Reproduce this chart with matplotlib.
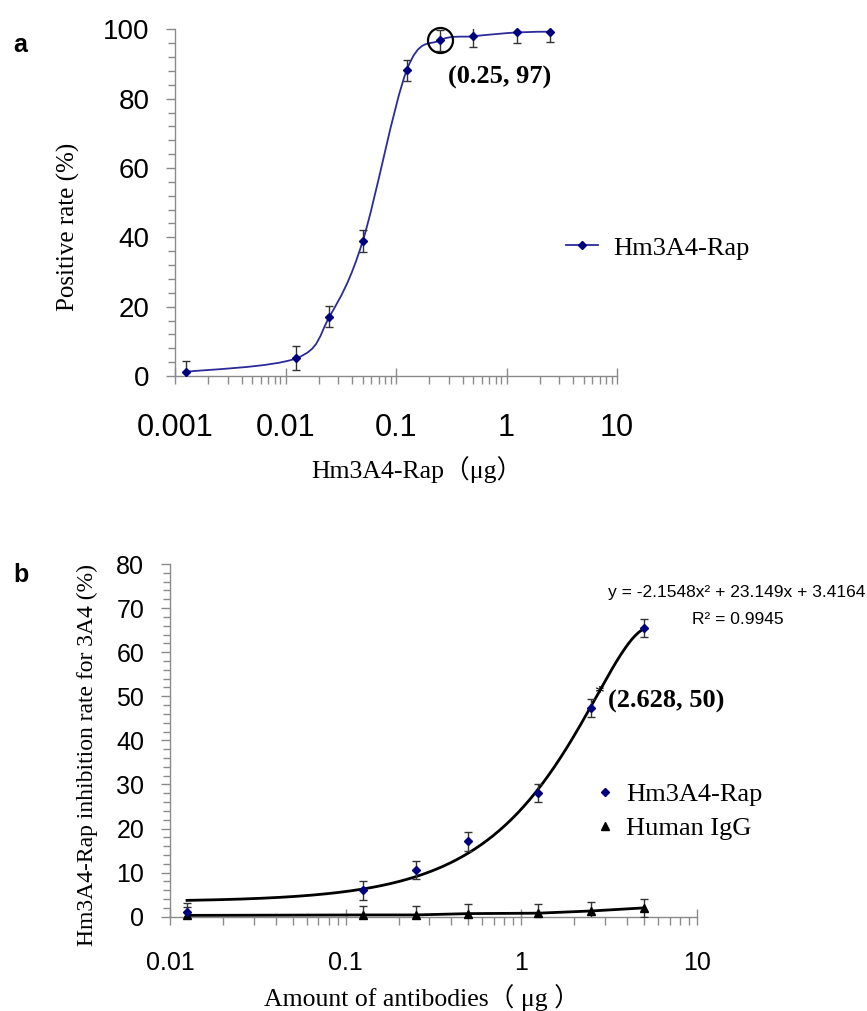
import numpy as np
import matplotlib
matplotlib.use('Agg')
import matplotlib.pyplot as plt
from matplotlib.path import Path
from matplotlib.patches import PathPatch
from matplotlib.lines import Line2D
from matplotlib.ticker import MultipleLocator, LogLocator, FuncFormatter, NullFormatter

SANS = ['Liberation Sans', 'DejaVu Sans']
SERIF = ['Liberation Serif', 'Noto Sans CJK SC', 'DejaVu Serif']

# ---- panel a data ----
dose_a = [0.00125, 0.0125, 0.025, 0.05, 0.125, 0.25, 0.5, 1.25, 2.5]
pos_rate = [1.2, 5.1, 17.1, 38.9, 88.2, 96.8, 98.0, 99.1, 99.3]
pos_err = [3.0, 3.5, 3.0, 3.2, 3.0, 3.0, 3.0, 3.0, 3.0]

# ---- panel b data ----
dose_b = [0.0125, 0.125, 0.25, 0.5, 1.25, 2.5, 5.0]
inhib_rap = [1.0, 6.0, 10.6, 17.1, 28.0, 47.3, 65.5]
inhib_rap_err = [2.0, 2.1, 2.0, 2.1, 2.0, 2.0, 2.0]
inhib_igg = [0.3, 0.4, 0.4, 0.7, 0.8, 1.3, 2.0]
inhib_igg_err = [2.0, 2.0, 2.0, 2.2, 2.0, 2.0, 2.0]
trend_coef = [-2.1548, 23.149, 3.4164]   # y = a x^2 + b x + c
trend_r2 = 0.9945

NAVY = '#00007f'
GRID_GREY = '#8a8a8a'


def smooth_path(xs, ys):
    # Excel-like smoothed line: Catmull-Rom as cubic Bezier, built in (log x, y)
    p = np.column_stack([np.log10(xs), ys])
    p = np.vstack([p[0], p, p[-1]])
    verts = [p[1]]
    codes = [Path.MOVETO]
    for i in range(1, len(p) - 2):
        c1 = p[i] + (p[i + 1] - p[i - 1]) / 6.0
        c2 = p[i + 1] - (p[i + 2] - p[i]) / 6.0
        verts += [c1, c2, p[i + 1]]
        codes += [Path.CURVE4] * 3
    verts = np.array(verts)
    verts[:, 0] = 10 ** verts[:, 0]
    return Path(verts, codes)


def style_axes(ax, ysize, xsize, xpad):
    for s in ['top', 'right']:
        ax.spines[s].set_visible(False)
    for s in ['left', 'bottom']:
        ax.spines[s].set_color(GRID_GREY)
        ax.spines[s].set_linewidth(1.0)
    ax.xaxis.set_minor_formatter(NullFormatter())
    ax.xaxis.set_major_formatter(FuncFormatter(lambda v, p: f'{v:g}'))
    ax.tick_params(axis='x', which='major', direction='inout', length=11, width=1,
                   color=GRID_GREY, labelsize=xsize, pad=xpad)
    ax.tick_params(axis='x', which='minor', direction='out', length=6, width=1,
                   color=GRID_GREY)
    ax.tick_params(axis='y', which='major', direction='out', length=6.5, width=1,
                   color=GRID_GREY, labelsize=ysize, pad=12)
    ax.tick_params(axis='y', which='minor', direction='out', length=5, width=1,
                   color=GRID_GREY)
    for lab in ax.get_xticklabels() + ax.get_yticklabels():
        lab.set_family(SANS)


fig = plt.figure(figsize=(8.67, 10.11), dpi=100)
W, H = 867, 1011

# ================= panel a =================
ax = fig.add_axes([175 / W, 1 - 376 / H, (617 - 175) / W, (376 - 29.3) / H])
ax.set_xscale('log')
ax.set_xlim(0.001, 10)
ax.set_ylim(0, 100)
ax.yaxis.set_major_locator(MultipleLocator(20))
ax.yaxis.set_minor_locator(MultipleLocator(4))
ax.xaxis.set_major_locator(LogLocator(base=10))
ax.xaxis.set_minor_locator(LogLocator(base=10, subs=np.arange(2, 10)))

ax.add_patch(PathPatch(smooth_path(dose_a, pos_rate), facecolor='none',
                       edgecolor='#2b2b9a', lw=1.3, zorder=2))
ax.errorbar(dose_a, pos_rate, yerr=pos_err, fmt='none', ecolor='#333333',
            elinewidth=1, capsize=3, capthick=1, zorder=3)
ax.plot(dose_a, pos_rate, 'D', color=NAVY, ms=4.5, zorder=4, clip_on=False)
ax.plot(0.25, 96.8, 'o', mfc='none', mec='black', ms=18, mew=1.6, zorder=5,
        clip_on=False)
ax.annotate('(0.25, 97)', xy=(0.25, 96.8), xytext=(43, -27), textcoords='offset points',
            ha='center', va='center', fontsize=19, fontweight='bold', family=SERIF)
style_axes(ax, 20, 22, 21)

ax.set_ylabel('Positive rate (%)', family=SERIF, fontsize=18)
ax.yaxis.set_label_coords(-0.242, 0.43)
ax.yaxis.label.set_va('center')
ax.set_xlabel('Hm3A4-Rap（μg）', family=SERIF, fontsize=18.5)
ax.xaxis.set_label_coords(0.548, -0.271)
ax.xaxis.label.set_va('center')

h_a = Line2D([], [], color='#2b2b9a', lw=1.3, marker='D', ms=4.5, mfc=NAVY, mec=NAVY)
ax.legend([h_a], ['Hm3A4-Rap'], loc='center left', bbox_to_anchor=(566 / W, 1 - 248 / H),
          bbox_transform=fig.transFigure, frameon=False, borderpad=0, borderaxespad=0,
          handlelength=1.2, handletextpad=0.6, prop={'family': SERIF, 'size': 19})

fig.text(13 / W, 1 - 45 / H, 'a', fontsize=18, fontweight='bold', family=SANS,
         va='center', ha='left')

# ================= panel b =================
bx = fig.add_axes([170 / W, 1 - 916.7 / H, (697 - 170) / W, (916.7 - 564) / H])
bx.set_xscale('log')
bx.set_xlim(0.01, 10)
bx.set_ylim(0, 80)
bx.yaxis.set_major_locator(MultipleLocator(10))
bx.yaxis.set_minor_locator(MultipleLocator(2))
bx.xaxis.set_major_locator(LogLocator(base=10))
bx.xaxis.set_minor_locator(LogLocator(base=10, subs=np.arange(2, 10)))

xt = np.geomspace(dose_b[0], dose_b[-1], 300)
yt = np.polyval(trend_coef, xt)
bx.plot(xt, yt, color='black', lw=2, zorder=2)

bx.errorbar(dose_b, inhib_igg, yerr=inhib_igg_err, fmt='none', ecolor='#333333',
            elinewidth=1, capsize=3, capthick=1, zorder=3)
bx.plot(dose_b, inhib_igg, '-', color='black', lw=2, zorder=3)
bx.plot(dose_b, inhib_igg, '^', color='black', ms=6, zorder=4, clip_on=False)

bx.errorbar(dose_b, inhib_rap, yerr=inhib_rap_err, fmt='none', ecolor='#333333',
            elinewidth=1, capsize=3, capthick=1, zorder=3)
bx.plot(dose_b, inhib_rap, 'D', color=NAVY, ms=4.5, zorder=4, clip_on=False)

bx.annotate('*', xy=(2.628, 50), xytext=(3, 1), textcoords='offset points',
            ha='center', va='center', fontsize=14, family=SERIF)
bx.annotate('(2.628, 50)', xy=(2.628, 50), xytext=(51, -3.6), textcoords='offset points',
            ha='center', va='center', fontsize=19, fontweight='bold', family=SERIF)

a2, a1, a0 = trend_coef
fig.text(737 / W, 1 - 593 / H, f'y = {a2:.4f}x² + {a1:.3f}x + {a0:.4f}',
         fontsize=12.5, family=SANS, ha='center', va='center')
fig.text(738 / W, 1 - 620 / H, f'R² = {trend_r2:.4f}',
         fontsize=12.5, family=SANS, ha='center', va='center')

style_axes(bx, 18, 18, 19)
bx.set_ylabel('Hm3A4-Rap inhibition rate for 3A4 (%)', family=SERIF, fontsize=17)
bx.yaxis.set_label_coords(-0.156, 0.458)
bx.yaxis.label.set_va('center')
bx.set_xlabel('Amount of antibodies（ μg ）', family=SERIF, fontsize=18.5)
bx.xaxis.set_label_coords(0.478, -0.228)
bx.xaxis.label.set_va('center')

h_b1 = Line2D([], [], ls='none', marker='D', ms=4.5, color=NAVY)
h_b2 = Line2D([], [], ls='none', marker='^', ms=6, color='black')
bx.legend([h_b1, h_b2], ['Hm3A4-Rap', 'Human IgG'], loc='center left',
          bbox_to_anchor=(592 / W, 1 - 811.5 / H), bbox_transform=fig.transFigure,
          frameon=False, borderpad=0, borderaxespad=0, handlelength=1.0,
          handletextpad=0.3, labelspacing=0.4, prop={'family': SERIF, 'size': 19})

fig.text(13 / W, 1 - 575 / H, 'b', fontsize=18, fontweight='bold', family=SANS,
         va='center', ha='left')

fig.savefig('out.png', dpi=100)
